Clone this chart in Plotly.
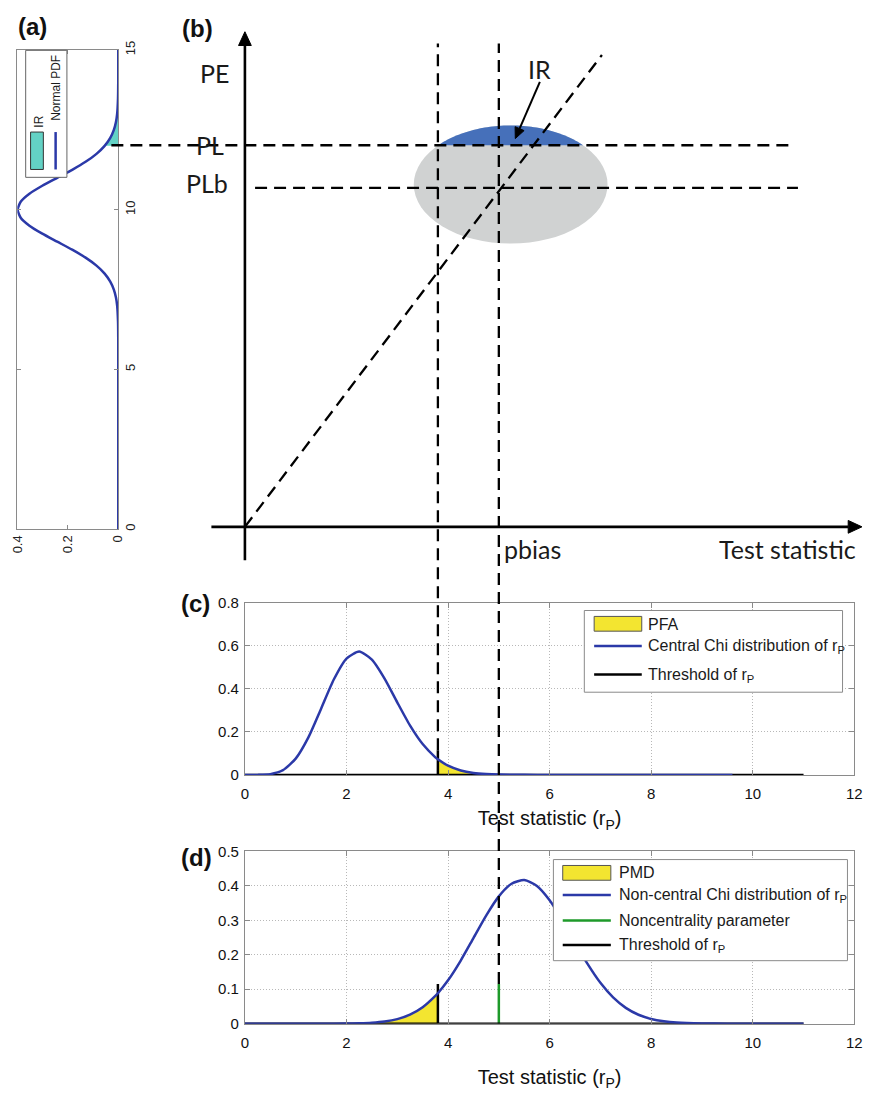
import numpy as np
import plotly.graph_objects as go

W, H = 880, 1094

# ======================= DATA =======================
# (a) Normal PDF of the position error (panel is rotated: position runs vertically)
a_position = [0, 1, 2, 3, 4, 5, 6, 6.5, 7, 7.25, 7.5, 7.75, 8, 8.25, 8.5, 8.75, 9, 9.25, 9.5, 9.75,
              10, 10.25, 10.5, 10.75, 11, 11.25, 11.5, 11.75, 12, 12.25, 12.5, 12.75, 13, 13.5, 14, 15]
a_density = [0, 0, 0, 0, 0, 0, 0.0001, 0.0009, 0.0044, 0.0091, 0.0175, 0.0317, 0.0540, 0.0863, 0.1295,
             0.1826, 0.2420, 0.3011, 0.3521, 0.3867, 0.3989, 0.3867, 0.3521, 0.3011, 0.2420, 0.1826,
             0.1295, 0.0863, 0.0540, 0.0317, 0.0175, 0.0091, 0.0044, 0.0009, 0.0001, 0]
ir_position = [12, 12.25, 12.5, 12.75, 13, 13.5, 14, 15]
ir_density = [0.0540, 0.0317, 0.0175, 0.0091, 0.0044, 0.0009, 0.0001, 0]
a_xtick_vals = [0, 0.2, 0.4]
a_xtick_text = ["0", "0.2", "0.4"]
a_ytick_vals = [0, 5, 10, 15]

# (b) schematic levels
pl_level = 12.0
plb_level = 10.66
pe_level = 14.26
pbias = 5.0
threshold = 3.8

# (c) central chi distribution of r_P
c_stat = [0, 0.25, 0.5, 0.75, 1, 1.25, 1.5, 1.75, 2, 2.25, 2.5, 2.75, 3, 3.25, 3.5, 3.75, 3.8,
          4, 4.25, 4.5, 4.75, 5, 5.5, 6, 7, 8, 9, 9.6]
c_density = [0, 0.0001, 0.0035, 0.0224, 0.0758, 0.1747, 0.3082, 0.4437, 0.5413, 0.5735, 0.5364,
             0.4481, 0.3375, 0.2305, 0.1436, 0.0819, 0.0724, 0.0429, 0.0207, 0.0092, 0.0038, 0.0015,
             0.0002, 0, 0, 0, 0, 0]
pfa_stat = [3.8, 4, 4.25, 4.5, 4.75, 5, 5.5, 6]
pfa_density = [0.0724, 0.0429, 0.0207, 0.0092, 0.0038, 0.0015, 0.0002, 0]
thr_stat = [0, 3.8, 3.8, 3.8, 11]
thr_value = [0, 0, 0.115, 0, 0]

# (d) non-central chi distribution of r_P
d_stat = [0, 0.5, 1, 1.5, 2, 2.25, 2.5, 2.75, 3, 3.25, 3.5, 3.75, 3.8, 4, 4.25, 4.5, 4.75, 5, 5.25,
          5.5, 5.75, 6, 6.25, 6.5, 6.75, 7, 7.25, 7.5, 7.75, 8, 8.25, 8.5, 9, 9.5, 10, 11]
d_density = [0, 0, 0, 0, 0.0004, 0.0011, 0.0027, 0.0062, 0.0132, 0.0261, 0.0476, 0.0806, 0.0884,
             0.1258, 0.1833, 0.2485, 0.3137, 0.3695, 0.4061, 0.4168, 0.3996, 0.3582, 0.3002, 0.2354,
             0.1727, 0.1185, 0.0763, 0.0459, 0.0259, 0.0137, 0.0068, 0.0031, 0.0006, 0.0001, 0, 0]
pmd_stat = [2, 2.25, 2.5, 2.75, 3, 3.25, 3.5, 3.75, 3.8]
pmd_density = [0.0004, 0.0011, 0.0027, 0.0062, 0.0132, 0.0261, 0.0476, 0.0806, 0.0884]
ncp_stat = [5.0, 5.0]
ncp_value = [0, 0.115]

x_ticks = [0, 2, 4, 6, 8, 10, 12]
c_yticks = [0, 0.2, 0.4, 0.6, 0.8]
d_yticks = [0, 0.1, 0.2, 0.3, 0.4, 0.5]

# ======================= LAYOUT GEOMETRY (pixels) =======================
def pxx(px):
    return px / W


def pxy(py):
    return 1 - py / H


A_XPX = (9.5, 112.3)
A_YPX = (528.3, 41.7)
P_XPX = (241.3, 862.0)          # shared test-statistic axis for (b), (c), (d)
C_YPX = (778.0, 603.3)
D_YPX = (1030.7, 855.7)
B_ORIGIN_Y = 526.0
B_YSCALE = 32.3
B_BOX = (100.0, 880.0, 20.0, 565.0)   # left, right, top, bottom

sx = (P_XPX[1] - P_XPX[0]) / 12.0
b_xrange = [(B_BOX[0] - P_XPX[0]) / sx, (B_BOX[1] - P_XPX[0]) / sx]
b_yrange = [(B_ORIGIN_Y - B_BOX[3]) / B_YSCALE, (B_ORIGIN_Y - B_BOX[2]) / B_YSCALE]
B_YPX = (B_BOX[3], B_BOX[2])
c_yrange = [0, 0.8]
d_yrange = [0, 0.5]


def y_to_paper(v, dom, rng):
    f = (v - rng[0]) / (rng[1] - rng[0])
    return pxy(dom[0] + f * (dom[1] - dom[0]))


# (b) schematic geometry in (b) data units
ELL = dict(cx=5.233, cy=10.765, rx=1.908, ry=1.858)
DIAG_END = (7.03, 14.84)
PL_SPAN = (-2.63, 10.80)
PLB_SPAN = (0.2, 10.89)
B_XAXIS_SPAN = (-0.66, 12.15)
B_YAXIS_SPAN = (-1.05, 15.57)
IR_TIP = (5.324, 12.21)
IR_TAIL = (5.808, 13.99)
GUIDE_TOP = 15.2

BLUE = "#2B39A8"
YELLOW = "#F3E530"
TURQ = "#63D2C5"
GREEN = "#1E9A2A"
FRAME = "#8a8a8a"
DASH = "12px,7px"
FONT = "Liberation Sans, Arial, sans-serif"
BFONT = "Lato, Calibri, sans-serif"

fig = go.Figure()

# ---- (a) ----
fig.add_trace(go.Scatter(x=ir_density, y=ir_position, mode="none", fill="tozerox",
                         fillcolor=TURQ, line=dict(shape="spline", smoothing=0.6),
                         xaxis="x", yaxis="y", name="IR"))
fig.add_trace(go.Scatter(x=a_density, y=a_position, mode="lines",
                         line=dict(color=BLUE, width=2.5, shape="spline", smoothing=0.6),
                         xaxis="x", yaxis="y", name="Normal PDF"))
# ---- (b) host trace ----
fig.add_trace(go.Scatter(x=[None], y=[None], mode="lines", xaxis="x2", yaxis="y2",
                         showlegend=False))
# ---- (c) ----
fig.add_trace(go.Scatter(x=pfa_stat, y=pfa_density, mode="none", fill="tozeroy",
                         fillcolor=YELLOW, line=dict(shape="spline", smoothing=0.6),
                         xaxis="x3", yaxis="y3", name="PFA"))
fig.add_trace(go.Scatter(x=thr_stat, y=thr_value, mode="lines", line=dict(color="black", width=2.5),
                         xaxis="x3", yaxis="y3", name="Threshold of r_P"))
fig.add_trace(go.Scatter(x=c_stat, y=c_density, mode="lines",
                         line=dict(color=BLUE, width=2.5, shape="spline", smoothing=0.6),
                         xaxis="x3", yaxis="y3", name="Central Chi distribution of r_P"))
# ---- (d) ----
fig.add_trace(go.Scatter(x=pmd_stat, y=pmd_density, mode="none", fill="tozeroy",
                         fillcolor=YELLOW, line=dict(shape="spline", smoothing=0.6),
                         xaxis="x4", yaxis="y4", name="PMD"))
fig.add_trace(go.Scatter(x=ncp_stat, y=ncp_value, mode="lines", line=dict(color=GREEN, width=2.5),
                         xaxis="x4", yaxis="y4", name="Noncentrality parameter"))
fig.add_trace(go.Scatter(x=thr_stat, y=thr_value, mode="lines", line=dict(color="black", width=2.5),
                         xaxis="x4", yaxis="y4", name="Threshold of r_P"))
fig.add_trace(go.Scatter(x=d_stat, y=d_density, mode="lines",
                         line=dict(color=BLUE, width=2.5, shape="spline", smoothing=0.6),
                         xaxis="x4", yaxis="y4", name="Non-central Chi distribution of r_P"))

frame = dict(showline=True, linecolor=FRAME, linewidth=1, mirror="ticks", ticks="inside",
             tickcolor=FRAME, zeroline=False)
grid = dict(showgrid=True, gridcolor="#b8b8b8", griddash="1px,2px", gridwidth=1)

shapes = []
annotations = []

# ---- (b) ellipse and IR cap ----
shapes.append(dict(type="circle", xref="x2", yref="y2",
                   x0=ELL["cx"] - ELL["rx"], x1=ELL["cx"] + ELL["rx"],
                   y0=ELL["cy"] - ELL["ry"], y1=ELL["cy"] + ELL["ry"],
                   fillcolor="#D0D2D2", line=dict(width=0), layer="above"))
t0 = np.arcsin((pl_level - ELL["cy"]) / ELL["ry"])
ts = np.linspace(t0, np.pi - t0, 60)
cap = "M " + " L ".join(f"{ELL['cx'] + ELL['rx'] * np.cos(t):.4f},{ELL['cy'] + ELL['ry'] * np.sin(t):.4f}"
                        for t in ts) + " Z"
shapes.append(dict(type="path", xref="x2", yref="y2", path=cap, fillcolor="#4670BA",
                   line=dict(width=0), layer="above"))

# dashed lines of (b)
dl = dict(color="black", width=2.3, dash=DASH)
shapes.append(dict(type="line", xref="x2", yref="y2", x0=PL_SPAN[0], x1=PL_SPAN[1],
                   y0=pl_level, y1=pl_level, line=dl, layer="above"))
shapes.append(dict(type="line", xref="x2", yref="y2", x0=PLB_SPAN[0], x1=PLB_SPAN[1],
                   y0=plb_level, y1=plb_level, line=dl, layer="above"))
shapes.append(dict(type="line", xref="x2", yref="y2", x0=0, x1=DIAG_END[0],
                   y0=0, y1=DIAG_END[1], line=dl, layer="above"))
# vertical guides crossing (b) -> (c) -> (d)
guide_top = y_to_paper(GUIDE_TOP, B_YPX, b_yrange)
shapes.append(dict(type="line", xref="x3", yref="paper", x0=threshold, x1=threshold,
                   y0=y_to_paper(thr_value[2], C_YPX, c_yrange), y1=guide_top, line=dl, layer="above"))
shapes.append(dict(type="line", xref="x3", yref="paper", x0=pbias, x1=pbias,
                   y0=y_to_paper(ncp_value[1], D_YPX, d_yrange), y1=guide_top, line=dl, layer="above"))


# arrows of (b) drawn as shapes (line + filled triangular head), in (b) data units
def arrow(tail, tip, width, head_len, head_half):
    dxp = (tip[0] - tail[0]) * sx
    dyp = (tip[1] - tail[1]) * B_YSCALE
    n = np.hypot(dxp, dyp)
    ux, uy = dxp / n, dyp / n
    bx, by = -ux * head_len, -uy * head_len
    px_, py_ = -uy * head_half, ux * head_half
    base = (tip[0] + bx / sx, tip[1] + by / B_YSCALE)
    c1 = (tip[0] + (bx + px_) / sx, tip[1] + (by + py_) / B_YSCALE)
    c2 = (tip[0] + (bx - px_) / sx, tip[1] + (by - py_) / B_YSCALE)
    shapes.append(dict(type="line", xref="x2", yref="y2", x0=tail[0], y0=tail[1],
                       x1=base[0], y1=base[1], line=dict(color="black", width=width), layer="above"))
    shapes.append(dict(type="path", xref="x2", yref="y2",
                       path=f"M {tip[0]:.4f},{tip[1]:.4f} L {c1[0]:.4f},{c1[1]:.4f} "
                            f"L {c2[0]:.4f},{c2[1]:.4f} Z",
                       fillcolor="black", line=dict(color="black", width=1), layer="above"))


arrow((B_XAXIS_SPAN[0], 0), (B_XAXIS_SPAN[1], 0), 2.6, 14, 6.5)
arrow((0, B_YAXIS_SPAN[0]), (0, B_YAXIS_SPAN[1]), 2.6, 14, 6.5)
arrow(IR_TAIL, IR_TIP, 2.0, 11, 5)

bt = dict(family=BFONT, size=25, color="#1a1a1a")
annotations += [
    dict(x=0, y=pe_level, xref="x2", yref="y2", text="PE", showarrow=False, xanchor="right",
         xshift=-14, font=bt),
    dict(x=0, y=pl_level, xref="x2", yref="y2", text="PL", showarrow=False, xanchor="right",
         xshift=-19, font=bt),
    dict(x=0, y=plb_level, xref="x2", yref="y2", text="PLb", showarrow=False, xanchor="right",
         xshift=-15, yshift=5, font=bt),
    dict(x=IR_TAIL[0], y=IR_TAIL[1], xref="x2", yref="y2", text="IR", showarrow=False,
         xanchor="center", yanchor="bottom", yshift=-4, font=bt),
    dict(x=pbias, y=0, xref="x2", yref="y2", text="pbias", showarrow=False, xanchor="left",
         yanchor="top", xshift=3, yshift=-5, font=bt),
    dict(x=12, y=0, xref="x2", yref="y2", text="Test statistic", showarrow=False,
         xanchor="right", yanchor="top", xshift=4, yshift=-5, font=bt),
]

# panel labels
for txt, cx, cy in [("(a)", 24.5, 18), ("(b)", 193.5, 20), ("(c)", 191, 604), ("(d)", 192, 862)]:
    annotations.append(dict(x=pxx(cx), y=pxy(cy), xref="paper", yref="paper", text=f"<b>{txt}</b>",
                            showarrow=False, xanchor="center", yanchor="middle",
                            font=dict(family=FONT, size=24, color="#111")))


def rect(x0, y0, x1, y1, fill, line_color, lw=1):
    shapes.append(dict(type="rect", xref="paper", yref="paper", x0=pxx(x0), x1=pxx(x1),
                       y0=pxy(y1), y1=pxy(y0), fillcolor=fill,
                       line=dict(color=line_color, width=lw), layer="above"))


def seg(x0, y0, x1, y1, color, lw=2.5):
    shapes.append(dict(type="line", xref="paper", yref="paper", x0=pxx(x0), x1=pxx(x1),
                       y0=pxy(y0), y1=pxy(y1), line=dict(color=color, width=lw), layer="above"))


def label(x, y, text, size=16, angle=0, anchor="left"):
    annotations.append(dict(x=pxx(x), y=pxy(y), xref="paper", yref="paper", text=text,
                            showarrow=False, xanchor=anchor, yanchor="middle", textangle=angle,
                            font=dict(family=FONT, size=size, color="#1a1a1a")))


# (a) legend (rotated)
rect(18, 42, 60, 171, "white", "#666")
rect(23, 125, 36, 163, TURQ, "#333")
seg(48.5, 125, 48.5, 163, BLUE)
label(32, 114, "IR", size=12, angle=-90, anchor="center")
label(49, 80, "Normal PDF", size=12, angle=-90, anchor="center")

# (c) legend
rect(587, 611, 850, 694, "white", FRAME)
rect(597, 617, 645.5, 632, YELLOW, "#555")
label(650, 625, "PFA")
seg(597, 647, 645.5, 647, BLUE)
label(650, 648, "Central Chi distribution of r<sub>P</sub>")
seg(597, 676, 645.5, 676, "black")
label(650, 677, "Threshold of r<sub>P</sub>")

# (d) legend
rect(555.5, 864, 855, 966.7, "white", FRAME)
rect(565, 870, 614, 885, YELLOW, "#555")
label(620, 877, "PMD")
seg(565, 900, 614, 900, BLUE)
label(620, 901, "Non-central Chi distribution of r<sub>P</sub>")
seg(565, 926, 614, 926, GREEN)
label(620, 926, "Noncentrality parameter")
seg(565, 950.7, 614, 950.7, "black")
label(620, 951, "Threshold of r<sub>P</sub>")

tick15 = dict(family=FONT, size=15, color="#111")
title20 = dict(family=FONT, size=20, color="#111")

fig.update_layout(
    width=W, height=H, autosize=False, margin=dict(l=0, r=0, t=0, b=0),
    paper_bgcolor="white", plot_bgcolor="rgba(0,0,0,0)", showlegend=False, hovermode=False,
    font=dict(family=FONT, color="#222"),
    xaxis=dict(domain=[pxx(A_XPX[0]), pxx(A_XPX[1])], range=[0.4, 0], anchor="y",
               tickvals=a_xtick_vals, ticktext=a_xtick_text, tickangle=-90, ticklen=4,
               showgrid=False, tickfont=dict(family=FONT, size=13, color="#222"), **frame),
    yaxis=dict(domain=[pxy(A_YPX[0]), pxy(A_YPX[1])], range=[0, 15], anchor="x", side="right",
               tickvals=a_ytick_vals, tickangle=-90, ticklen=4, showgrid=False,
               tickfont=dict(family=FONT, size=13, color="#222"), **frame),
    xaxis2=dict(domain=[pxx(B_BOX[0]), pxx(B_BOX[1])], range=b_xrange, anchor="y2", visible=False),
    yaxis2=dict(domain=[pxy(B_BOX[3]), pxy(B_BOX[2])], range=b_yrange, anchor="x2", visible=False),
    xaxis3=dict(domain=[pxx(P_XPX[0]), pxx(P_XPX[1])], range=[0, 12], anchor="y3", tickvals=x_ticks,
                ticklen=5, tickfont=tick15, ticklabelstandoff=5,
                title=dict(text="Test statistic (r<sub>P</sub>)", font=title20, standoff=10),
                **frame, **grid),
    yaxis3=dict(domain=[pxy(C_YPX[0]), pxy(C_YPX[1])], range=c_yrange, anchor="x3",
                tickvals=c_yticks, ticklen=5, tickfont=tick15, ticklabelstandoff=2, **frame, **grid),
    xaxis4=dict(domain=[pxx(P_XPX[0]), pxx(P_XPX[1])], range=[0, 12], anchor="y4", tickvals=x_ticks,
                ticklen=5, tickfont=tick15, ticklabelstandoff=5,
                title=dict(text="Test statistic (r<sub>P</sub>)", font=title20, standoff=20),
                **frame, **grid),
    yaxis4=dict(domain=[pxy(D_YPX[0]), pxy(D_YPX[1])], range=d_yrange, anchor="x4",
                tickvals=d_yticks, ticklen=5, tickfont=tick15, ticklabelstandoff=2, **frame, **grid),
    shapes=shapes,
    annotations=annotations,
)

fig.write_html("out.html")
